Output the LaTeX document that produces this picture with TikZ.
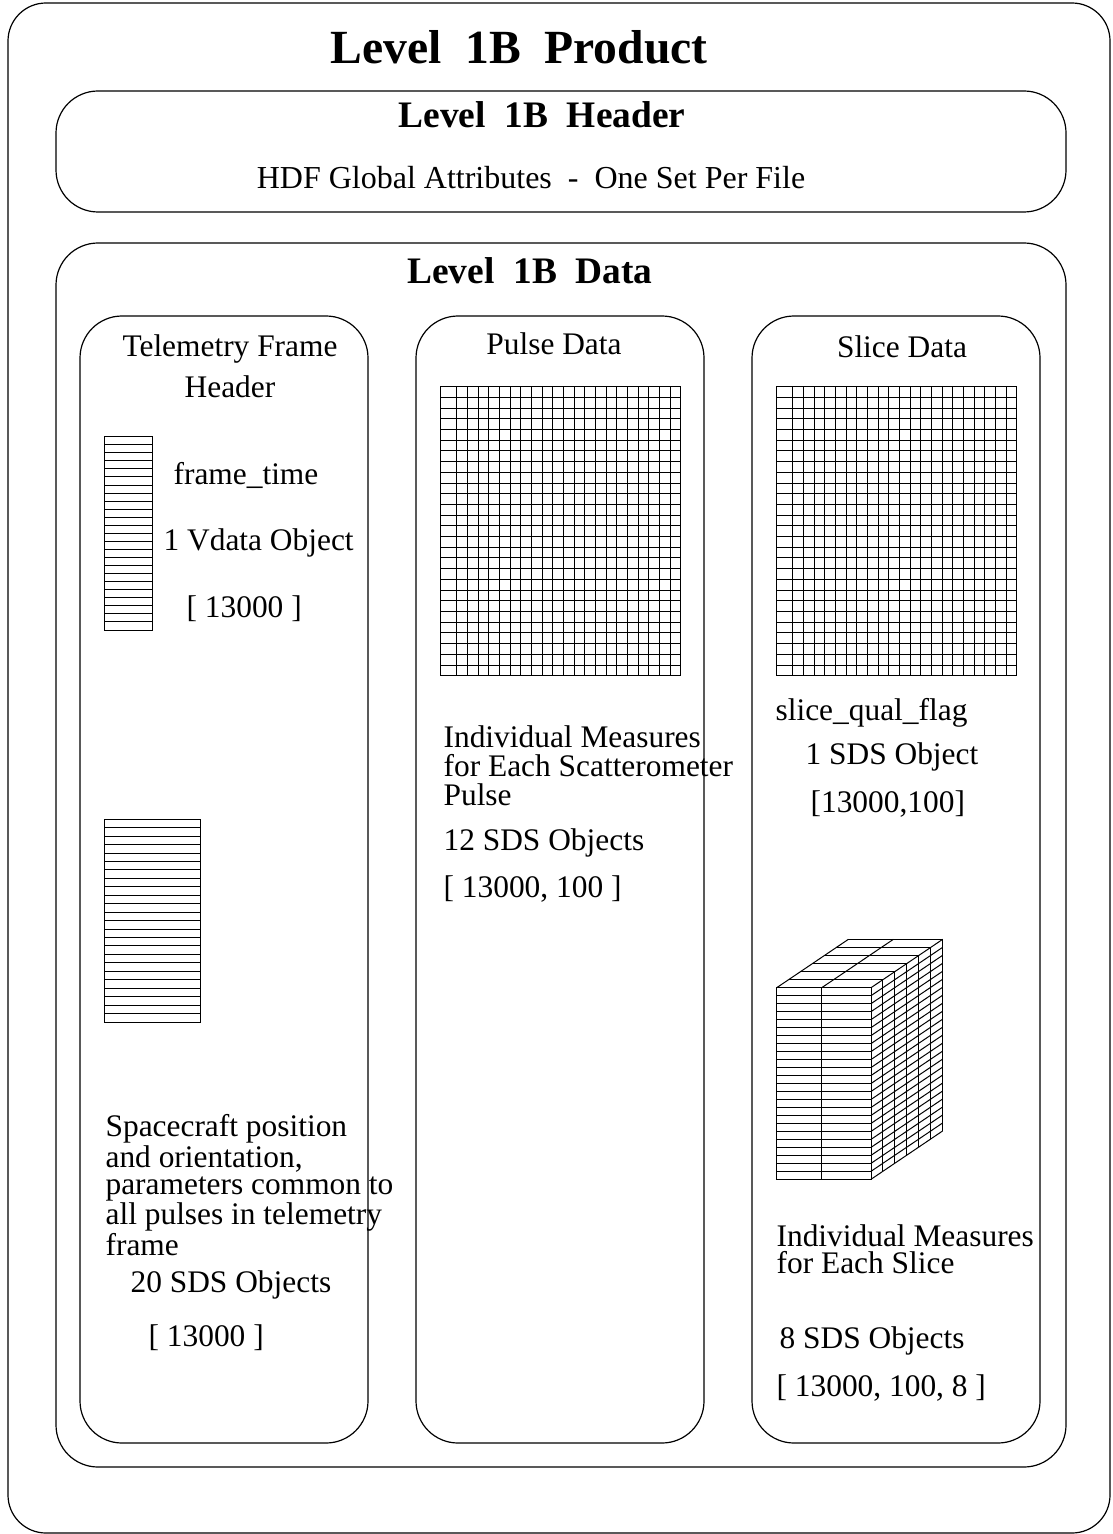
\documentclass[tikz,border=0pt]{standalone}
\usepackage{fontspec}
\setmainfont{Liberation Serif}

\begin{document}
\begin{tikzpicture}[x=0.5pt, y=-0.5pt, line width=0.6pt,
	panel/.style={draw, rounded corners=21pt},
	body/.style={font=\fontsize{15.7}{14.5}\selectfont, inner sep=0pt},
	heading/.style={font=\bfseries\fontsize{18.7}{22}\selectfont, inner sep=0pt, anchor=base},
	gridline/.style={line width=0.5pt}]
	\useasboundingbox (0,0) rectangle (1112,1534);
	% frames
	\draw[rounded corners=19pt] (8,3) rectangle (1110,1533);
	\draw[panel] (56,91) rectangle (1066,212);
	\draw[panel] (56,243) rectangle (1066,1467);
	\draw[panel] (80,316) rectangle (368,1443);
	\draw[panel] (416,316) rectangle (704,1443);
	\draw[panel] (752,316) rectangle (1040,1443);
	% titles
	\node[heading, font=\bfseries\fontsize{23.8}{28}\selectfont] (prodtitle) at (519,64) {Level\ \ 1B\ \ Product};
	\node[heading] (hdrtitle) at (542,128) {Level\ \ 1B\ \ Header};
	\node[body, anchor=base, font=\fontsize{16}{18}\selectfont] (globattr) at (531,189) {HDF Global Attributes\ \ -\ \ One Set Per File};
	\node[heading] (datatitle) at (530,284) {Level\ \ 1B\ \ Data};
	\node[body, anchor=north, align=center, font=\fontsize{15.7}{20.5}\selectfont] (tfhead) at (230,334.6) {Telemetry Frame\\Header};
	\node[body, anchor=base] (pulsehead) at (554,355) {Pulse Data};
	\node[body, anchor=base] (slicehead) at (902,358) {Slice Data};
	% telemetry frame header column
	\draw[gridline] (104.7,436.7) rectangle (152.7,630);
	\foreach \j in {1,...,23} \draw[gridline] (104.7,{436.7+\j*8.054}) -- ++(48,0);
	\node[body, anchor=base west] (frametime) at (173,484) {frame\_time};
	\node[body, anchor=base west] (vdata) at (163,550) {1 Vdata Object};
	\node[body, anchor=base west] (vdatadim) at (186,617) {[ 13000 ]};
	\draw[gridline] (104.7,819.3) rectangle (200.7,1022);
	\foreach \j in {1,...,23} \draw[gridline] (104.7,{819.3+\j*8.446}) -- ++(96,0);
	\node[body, anchor=north west, align=left, font=\fontsize{15.7}{13.5}\selectfont] (scdesc) at (105,1114) {Spacecraft position\\and orientation,\\parameters common to\\all pulses in telemetry\\frame};
	\node[body, anchor=base west] (scsds) at (130,1292) {20 SDS Objects};
	\node[body, anchor=base west] (scdim) at (148,1346) {[ 13000 ]};
	% pulse and slice grids
	\foreach \gx in {440.7,776.7} {
		\draw[gridline] (\gx,386.7) rectangle ++(240,289);
		\foreach \i in {0,...,20} \draw[gridline] ({\gx+16+\i*10.667},386.7) -- ++(0,289);
		\foreach \j in {1,...,26} \draw[gridline] (\gx,{386.7+\j*10.704}) -- ++(240,0);
	}
	\node[body, anchor=north west, align=left, font=\fontsize{15.7}{14.5}\selectfont] (pulsedesc) at (443,725.6) {Individual Measures\\for Each Scatterometer\\Pulse};
	\node[body, anchor=base west] (pulsesds) at (443,850) {12 SDS Objects};
	\node[body, anchor=base west] (pulsedim) at (443,897) {[ 13000, 100 ]};
	\node[body, anchor=base west] (qualflag) at (775,720) {slice\_qual\_flag};
	\node[body, anchor=base west] (qualsds) at (805,764) {1 SDS Object};
	\node[body, anchor=base west] (qualdim) at (810,812) {[13000,100]};
	% slice cube
	\draw[gridline] (776.7,987.7) rectangle (871,1179.3);
	\draw[gridline] (821.7,987.7) -- (821.7,1179.3);
	\foreach \j in {1,...,23} \draw[gridline] (776.7,{987.7+\j*7.983}) -- ++(94.3,0);
	\foreach \j in {0,...,24} \draw[gridline] (871,{987.7+\j*7.983}) -- ++(71.7,-48.4);
	\foreach \k in {1,...,6} {
		\draw[gridline] ({871+\k*11.95},{987.7-\k*8.067}) -- ++(0,191.6);
		\draw[gridline] ({776.7+\k*11.95},{987.7-\k*8.067}) -- ++(94.3,0);
	}
	\draw[gridline] (776.7,987.7) -- ++(71.7,-48.4);
	\draw[gridline] (821.7,987.7) -- ++(71.7,-48.4);
	\node[body, anchor=north west, align=left, font=\fontsize{15.7}{13.5}\selectfont] (slicedesc) at (776,1224) {Individual Measures\\for Each Slice};
	\node[body, anchor=base west] (slicesds) at (779,1348) {8 SDS Objects};
	\node[body, anchor=base west] (slicedim) at (776,1396) {[ 13000, 100, 8 ]};
\end{tikzpicture}
\end{document}
